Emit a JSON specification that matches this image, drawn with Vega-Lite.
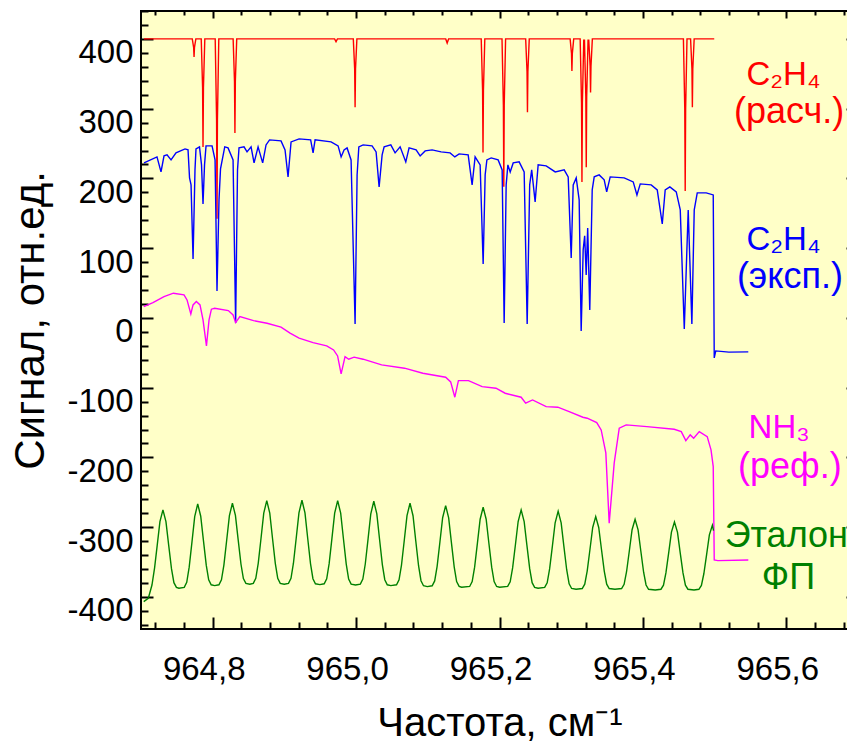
{
"$schema": "https://vega.github.io/schema/vega-lite/v6.json",
"width": 717, "height": 618,
"autosize": "none",
"padding": {"left": 141, "top": 11, "right": 0, "bottom": 117},
"background": "white",
"config": {
  "view": {"stroke": "black", "strokeWidth": 2, "fill": "#FFFFC8"},
  "axis": {"grid": false, "domain": false, "tickColor": "black", "tickWidth": 2, "labelColor": "black", "titleColor": "black", "labelFont": "Liberation Sans", "titleFont": "Liberation Sans", "titleFontWeight": "normal"}
},
"datasets": {
"curves": [
{"s":"r","x":964.7042,"y":400},{"s":"r","x":964.7715,"y":400},{"s":"r","x":964.7734,"y":388},{"s":"r","x":964.774,"y":374},{"s":"r","x":964.7746,"y":388},{"s":"r","x":964.7765,"y":400},
{"s":"r","x":964.784,"y":400},{"s":"r","x":964.7859,"y":330},{"s":"r","x":964.7865,"y":245},{"s":"r","x":964.7871,"y":330},{"s":"r","x":964.789,"y":400},
{"s":"r","x":964.8035,"y":400},{"s":"r","x":964.8054,"y":284},{"s":"r","x":964.806,"y":142},{"s":"r","x":964.8066,"y":284},{"s":"r","x":964.8085,"y":400},
{"s":"r","x":964.8285,"y":400},{"s":"r","x":964.8304,"y":339},{"s":"r","x":964.831,"y":265},{"s":"r","x":964.8316,"y":339},{"s":"r","x":964.8335,"y":400},
{"s":"r","x":964.970,"y":400},{"s":"r","x":964.972,"y":396},{"s":"r","x":964.974,"y":400},
{"s":"r","x":964.9961,"y":400},{"s":"r","x":964.998,"y":357},{"s":"r","x":964.9986,"y":302},{"s":"r","x":964.9992,"y":357},{"s":"r","x":965.0011,"y":400},
{"s":"r","x":965.125,"y":400},{"s":"r","x":965.127,"y":394},{"s":"r","x":965.129,"y":400},
{"s":"r","x":965.1745,"y":400},{"s":"r","x":965.1764,"y":326},{"s":"r","x":965.177,"y":237},{"s":"r","x":965.1776,"y":326},{"s":"r","x":965.1795,"y":400},
{"s":"r","x":965.2035,"y":400},{"s":"r","x":965.2054,"y":305},{"s":"r","x":965.206,"y":188},{"s":"r","x":965.2066,"y":305},{"s":"r","x":965.2085,"y":400},
{"s":"r","x":965.2365,"y":400},{"s":"r","x":965.2384,"y":353},{"s":"r","x":965.239,"y":295},{"s":"r","x":965.2396,"y":353},{"s":"r","x":965.2415,"y":400},
{"s":"r","x":965.2985,"y":400},{"s":"r","x":965.3004,"y":379},{"s":"r","x":965.301,"y":354},{"s":"r","x":965.3016,"y":379},{"s":"r","x":965.3035,"y":400},
{"s":"r","x":965.3125,"y":400},{"s":"r","x":965.3144,"y":308},{"s":"r","x":965.315,"y":195},{"s":"r","x":965.3156,"y":308},{"s":"r","x":965.3175,"y":398},
{"s":"r","x":965.3185,"y":398},{"s":"r","x":965.3204,"y":317},{"s":"r","x":965.321,"y":216},{"s":"r","x":965.3216,"y":317},{"s":"r","x":965.3235,"y":398},
{"s":"r","x":965.3245,"y":398},{"s":"r","x":965.3264,"y":361},{"s":"r","x":965.327,"y":323},{"s":"r","x":965.3276,"y":361},{"s":"r","x":965.3295,"y":400},
{"s":"r","x":965.4565,"y":400},{"s":"r","x":965.4584,"y":300},{"s":"r","x":965.459,"y":182},{"s":"r","x":965.4596,"y":300},{"s":"r","x":965.4615,"y":400},
{"s":"r","x":965.4665,"y":400},{"s":"r","x":965.4684,"y":357},{"s":"r","x":965.469,"y":302},{"s":"r","x":965.4696,"y":357},{"s":"r","x":965.4715,"y":400},
{"s":"r","x":965.4995,"y":400},

{"s":"b","x":964.7042,"y":222.2},{"s":"b","x":964.7223,"y":230.8},{"s":"b","x":964.7279,"y":209.3},{"s":"b","x":964.7321,"y":232.3},{"s":"b","x":964.7363,"y":233.7},{"s":"b","x":964.7419,"y":226.5},{"s":"b","x":964.7488,"y":236.6},{"s":"b","x":964.7614,"y":242.3},{"s":"b","x":964.7656,"y":240.9},{"s":"b","x":964.7677,"y":200.7},{"s":"b","x":964.7698,"y":190.7},{"s":"b","x":964.7726,"y":84.6},{"s":"b","x":964.7753,"y":212.2},{"s":"b","x":964.7767,"y":242.3},{"s":"b","x":964.7816,"y":245.2},{"s":"b","x":964.7844,"y":219.4},{"s":"b","x":964.7865,"y":163.4},{"s":"b","x":964.7886,"y":219.4},{"s":"b","x":964.7907,"y":246.6},{"s":"b","x":964.7991,"y":246.6},{"s":"b","x":964.8033,"y":226.5},{"s":"b","x":964.806,"y":38.7},{"s":"b","x":964.8088,"y":169.2},{"s":"b","x":964.8109,"y":213.6},{"s":"b","x":964.8168,"y":245.2},{"s":"b","x":964.8214,"y":243.7},{"s":"b","x":964.8284,"y":226.5},{"s":"b","x":964.832,"y":-7.2},{"s":"b","x":964.8346,"y":212.2},{"s":"b","x":964.8367,"y":243.7},{"s":"b","x":964.8437,"y":245.2},{"s":"b","x":964.8479,"y":238},{"s":"b","x":964.8535,"y":245.2},{"s":"b","x":964.8577,"y":222.2},{"s":"b","x":964.8633,"y":245.2},{"s":"b","x":964.8697,"y":222.2},{"s":"b","x":964.8744,"y":248},{"s":"b","x":964.8793,"y":255.2},{"s":"b","x":964.8953,"y":253.8},{"s":"b","x":964.9009,"y":240.9},{"s":"b","x":964.9051,"y":202.2},{"s":"b","x":964.9093,"y":252.3},{"s":"b","x":964.9205,"y":256.6},{"s":"b","x":964.9366,"y":255.2},{"s":"b","x":964.94,"y":236.6},{"s":"b","x":964.9428,"y":255.2},{"s":"b","x":964.9651,"y":252.3},{"s":"b","x":964.9749,"y":246.6},{"s":"b","x":964.9791,"y":230.8},{"s":"b","x":964.9832,"y":240.9},{"s":"b","x":964.9874,"y":243.7},{"s":"b","x":964.993,"y":226.5},{"s":"b","x":964.9986,"y":-8.6},{"s":"b","x":965.0014,"y":205},{"s":"b","x":965.0038,"y":245.2},{"s":"b","x":965.0098,"y":248},{"s":"b","x":965.0223,"y":246.6},{"s":"b","x":965.0279,"y":238},{"s":"b","x":965.0321,"y":187.8},{"s":"b","x":965.0363,"y":233.7},{"s":"b","x":965.0391,"y":245.2},{"s":"b","x":965.0484,"y":248},{"s":"b","x":965.0544,"y":236.6},{"s":"b","x":965.0614,"y":245.2},{"s":"b","x":965.0693,"y":223.7},{"s":"b","x":965.0739,"y":243.7},{"s":"b","x":965.0837,"y":240.9},{"s":"b","x":965.0893,"y":232.3},{"s":"b","x":965.0963,"y":239.4},{"s":"b","x":965.106,"y":240.9},{"s":"b","x":965.1186,"y":238},{"s":"b","x":965.1311,"y":236.6},{"s":"b","x":965.1377,"y":230.8},{"s":"b","x":965.1437,"y":235.1},{"s":"b","x":965.1563,"y":233.7},{"s":"b","x":965.1618,"y":190.7},{"s":"b","x":965.166,"y":230.8},{"s":"b","x":965.173,"y":219.4},{"s":"b","x":965.1772,"y":77.4},{"s":"b","x":965.18,"y":205},{"s":"b","x":965.1824,"y":226.5},{"s":"b","x":965.1884,"y":229.4},{"s":"b","x":965.1981,"y":226.5},{"s":"b","x":965.2037,"y":212.2},{"s":"b","x":965.2065,"y":-7.2},{"s":"b","x":965.2093,"y":190.7},{"s":"b","x":965.2117,"y":219.4},{"s":"b","x":965.2149,"y":209.3},{"s":"b","x":965.2191,"y":222.2},{"s":"b","x":965.2274,"y":223.7},{"s":"b","x":965.2344,"y":209.3},{"s":"b","x":965.2386,"y":-8.6},{"s":"b","x":965.2421,"y":190.7},{"s":"b","x":965.2449,"y":212.2},{"s":"b","x":965.2497,"y":166.3},{"s":"b","x":965.2539,"y":219.4},{"s":"b","x":965.2651,"y":217.9},{"s":"b","x":965.2777,"y":209.3},{"s":"b","x":965.2902,"y":212.2},{"s":"b","x":965.2958,"y":202.2},{"s":"b","x":965.3,"y":86},{"s":"b","x":965.3028,"y":190.7},{"s":"b","x":965.307,"y":200.7},{"s":"b","x":965.3111,"y":169.2},{"s":"b","x":965.3139,"y":-18.6},{"s":"b","x":965.3167,"y":97.5},{"s":"b","x":965.3188,"y":117.6},{"s":"b","x":965.3209,"y":61.6},{"s":"b","x":965.323,"y":129},{"s":"b","x":965.3259,"y":11.5},{"s":"b","x":965.3293,"y":183.5},{"s":"b","x":965.3321,"y":202.2},{"s":"b","x":965.339,"y":205},{"s":"b","x":965.346,"y":197.9},{"s":"b","x":965.3495,"y":180.6},{"s":"b","x":965.3544,"y":202.2},{"s":"b","x":965.3739,"y":200.7},{"s":"b","x":965.3865,"y":195},{"s":"b","x":965.3917,"y":176.3},{"s":"b","x":965.3963,"y":192.1},{"s":"b","x":965.4116,"y":190.7},{"s":"b","x":965.42,"y":183.5},{"s":"b","x":965.427,"y":134.8},{"s":"b","x":965.4311,"y":183.5},{"s":"b","x":965.4376,"y":187.8},{"s":"b","x":965.4465,"y":180.6},{"s":"b","x":965.4521,"y":154.8},{"s":"b","x":965.4577,"y":-15.8},{"s":"b","x":965.4632,"y":154.8},{"s":"b","x":965.4683,"y":-8.6},{"s":"b","x":965.4716,"y":154.8},{"s":"b","x":965.4758,"y":179.2},{"s":"b","x":965.4883,"y":179.2},{"s":"b","x":965.4981,"y":176.3},{"s":"b","x":965.4995,"y":-57.3},{"s":"b","x":965.5016,"y":-47.3},{"s":"b","x":965.52,"y":-49},{"s":"b","x":965.547,"y":-48.7},

{"s":"m","x":964.7038,"y":16.2},{"s":"m","x":964.7167,"y":21.9},{"s":"m","x":964.7321,"y":30.5},{"s":"m","x":964.7452,"y":35.4},{"s":"m","x":964.76,"y":33},{"s":"m","x":964.7642,"y":25.8},{"s":"m","x":964.7695,"y":5.7},{"s":"m","x":964.7726,"y":18.6},{"s":"m","x":964.7772,"y":23.4},{"s":"m","x":964.7823,"y":18.6},{"s":"m","x":964.7865,"y":-2.9},{"s":"m","x":964.7913,"y":-40.1},{"s":"m","x":964.7949,"y":-2.9},{"s":"m","x":964.7982,"y":12.5},{"s":"m","x":964.8027,"y":13.9},{"s":"m","x":964.8218,"y":10.5},{"s":"m","x":964.8284,"y":4.3},{"s":"m","x":964.832,"y":-6.7},{"s":"m","x":964.8379,"y":1.9},{"s":"m","x":964.857,"y":-3.9},{"s":"m","x":964.8758,"y":-7.6},{"s":"m","x":964.8953,"y":-13.3},{"s":"m","x":964.9079,"y":-21.9},{"s":"m","x":964.9205,"y":-29.1},{"s":"m","x":964.94,"y":-35.4},{"s":"m","x":964.959,"y":-40.1},{"s":"m","x":964.9686,"y":-45.9},{"s":"m","x":964.9742,"y":-54.5},{"s":"m","x":964.9791,"y":-80.3},{"s":"m","x":964.9846,"y":-55.5},{"s":"m","x":964.9897,"y":-59.2},{"s":"m","x":964.9972,"y":-56.3},{"s":"m","x":965.0098,"y":-59.2},{"s":"m","x":965.0356,"y":-67.4},{"s":"m","x":965.0675,"y":-72.1},{"s":"m","x":965.0931,"y":-79.3},{"s":"m","x":965.1249,"y":-85},{"s":"m","x":965.1319,"y":-91.8},{"s":"m","x":965.1377,"y":-113.7},{"s":"m","x":965.1427,"y":-89.9},{"s":"m","x":965.1568,"y":-89.9},{"s":"m","x":965.1758,"y":-98.5},{"s":"m","x":965.1951,"y":-100.8},{"s":"m","x":965.2079,"y":-108},{"s":"m","x":965.2302,"y":-113.7},{"s":"m","x":965.2365,"y":-122.3},{"s":"m","x":965.2461,"y":-117.6},{"s":"m","x":965.2651,"y":-127.2},{"s":"m","x":965.2813,"y":-128},{"s":"m","x":965.2972,"y":-134.3},{"s":"m","x":965.3163,"y":-142.4},{"s":"m","x":965.3223,"y":-143.8},{"s":"m","x":965.3356,"y":-150.1},{"s":"m","x":965.3418,"y":-160.6},{"s":"m","x":965.3483,"y":-193.5},{"s":"m","x":965.353,"y":-294.3},{"s":"m","x":965.36,"y":-207.9},{"s":"m","x":965.367,"y":-158.1},{"s":"m","x":965.3767,"y":-153.4},{"s":"m","x":965.4056,"y":-155.8},{"s":"m","x":965.4437,"y":-159.6},{"s":"m","x":965.4535,"y":-163},{"s":"m","x":965.4599,"y":-175.9},{"s":"m","x":965.466,"y":-167.7},{"s":"m","x":965.4708,"y":-172.5},{"s":"m","x":965.4786,"y":-163},{"s":"m","x":965.4897,"y":-170.2},{"s":"m","x":965.495,"y":-189.2},{"s":"m","x":965.4981,"y":-213.2},{"s":"m","x":965.4995,"y":-347},{"s":"m","x":965.5045,"y":-348},{"s":"m","x":965.547,"y":-347},

{"s":"g","x":964.7038,"y":-406.7},{"s":"g","x":964.7102,"y":-401.9},{"s":"g","x":964.7153,"y":-383},{"s":"g","x":964.719,"y":-358},{"s":"g","x":964.7226,"y":-326},{"s":"g","x":964.7264,"y":-292},{"s":"g","x":964.7306,"y":-275.3},{"s":"g","x":964.7348,"y":-292.1},{"s":"g","x":964.7386,"y":-325.8},{"s":"g","x":964.7425,"y":-359.5},{"s":"g","x":964.7459,"y":-379.6},{"s":"g","x":964.7494,"y":-386.4},{"s":"g","x":964.7529,"y":-387.5},
{"s":"g","x":964.7603,"y":-386.3},{"s":"g","x":964.7638,"y":-379},{"s":"g","x":964.7672,"y":-357.3},{"s":"g","x":964.7711,"y":-321.1},{"s":"g","x":964.7749,"y":-284.8},{"s":"g","x":964.7791,"y":-266.7},{"s":"g","x":964.7833,"y":-284.3},{"s":"g","x":964.7871,"y":-319.4},{"s":"g","x":964.791,"y":-354.5},{"s":"g","x":964.7944,"y":-375.6},{"s":"g","x":964.7979,"y":-382.6},{"s":"g","x":964.8027,"y":-383.8},
{"s":"g","x":964.8087,"y":-382.6},{"s":"g","x":964.8122,"y":-375.5},{"s":"g","x":964.8156,"y":-354.3},{"s":"g","x":964.8195,"y":-318.8},{"s":"g","x":964.8233,"y":-283.4},{"s":"g","x":964.8275,"y":-265.7},{"s":"g","x":964.8317,"y":-283.1},{"s":"g","x":964.8355,"y":-317.9},{"s":"g","x":964.8394,"y":-352.8},{"s":"g","x":964.8428,"y":-373.7},{"s":"g","x":964.8463,"y":-380.6},{"s":"g","x":964.8518,"y":-381.8},
{"s":"g","x":964.8566,"y":-380.6},{"s":"g","x":964.8601,"y":-373.4},{"s":"g","x":964.8635,"y":-351.8},{"s":"g","x":964.8674,"y":-315.9},{"s":"g","x":964.8712,"y":-279.9},{"s":"g","x":964.8754,"y":-261.9},{"s":"g","x":964.8796,"y":-279.9},{"s":"g","x":964.8834,"y":-315.9},{"s":"g","x":964.8873,"y":-351.8},{"s":"g","x":964.8907,"y":-373.4},{"s":"g","x":964.8942,"y":-380.6},{"s":"g","x":964.8997,"y":-381.8},
{"s":"g","x":964.9057,"y":-380.6},{"s":"g","x":964.9092,"y":-373.4},{"s":"g","x":964.9126,"y":-351.7},{"s":"g","x":964.9165,"y":-315.6},{"s":"g","x":964.9203,"y":-279.5},{"s":"g","x":964.9245,"y":-261.4},{"s":"g","x":964.9287,"y":-279.6},{"s":"g","x":964.9325,"y":-315.9},{"s":"g","x":964.9364,"y":-352.2},{"s":"g","x":964.9398,"y":-373.9},{"s":"g","x":964.9433,"y":-381.2},{"s":"g","x":964.9495,"y":-382.4},
{"s":"g","x":964.9555,"y":-381.2},{"s":"g","x":964.959,"y":-374},{"s":"g","x":964.9624,"y":-352.3},{"s":"g","x":964.9663,"y":-316.1},{"s":"g","x":964.9701,"y":-280},{"s":"g","x":964.9743,"y":-261.9},{"s":"g","x":964.9785,"y":-280},{"s":"g","x":964.9823,"y":-316.3},{"s":"g","x":964.9862,"y":-352.6},{"s":"g","x":964.9896,"y":-374.3},{"s":"g","x":964.9931,"y":-381.6},{"s":"g","x":964.9992,"y":-382.8},
{"s":"g","x":965.0059,"y":-381.6},{"s":"g","x":965.0094,"y":-374.4},{"s":"g","x":965.0128,"y":-352.8},{"s":"g","x":965.0167,"y":-316.8},{"s":"g","x":965.0205,"y":-280.8},{"s":"g","x":965.0247,"y":-262.8},{"s":"g","x":965.0289,"y":-281},{"s":"g","x":965.0327,"y":-317.3},{"s":"g","x":965.0366,"y":-353.6},{"s":"g","x":965.04,"y":-375.3},{"s":"g","x":965.0435,"y":-382.6},{"s":"g","x":965.0484,"y":-383.8},
{"s":"g","x":965.0564,"y":-382.6},{"s":"g","x":965.0599,"y":-375.5},{"s":"g","x":965.0633,"y":-354.3},{"s":"g","x":965.0672,"y":-318.8},{"s":"g","x":965.071,"y":-283.4},{"s":"g","x":965.0752,"y":-265.7},{"s":"g","x":965.0794,"y":-283.6},{"s":"g","x":965.0832,"y":-319.5},{"s":"g","x":965.0871,"y":-355.3},{"s":"g","x":965.0905,"y":-376.8},{"s":"g","x":965.094,"y":-384},{"s":"g","x":965.0993,"y":-385.2},
{"s":"g","x":965.1061,"y":-384},{"s":"g","x":965.1096,"y":-377.1},{"s":"g","x":965.113,"y":-356.2},{"s":"g","x":965.1169,"y":-321.3},{"s":"g","x":965.1207,"y":-286.5},{"s":"g","x":965.1249,"y":-269.1},{"s":"g","x":965.1291,"y":-286.7},{"s":"g","x":965.1329,"y":-321.8},{"s":"g","x":965.1368,"y":-356.9},{"s":"g","x":965.1402,"y":-377.9},{"s":"g","x":965.1437,"y":-384.9},{"s":"g","x":965.1472,"y":-386.1},
{"s":"g","x":965.1584,"y":-385},{"s":"g","x":965.1619,"y":-378.1},{"s":"g","x":965.1653,"y":-357.4},{"s":"g","x":965.1692,"y":-323},{"s":"g","x":965.173,"y":-288.6},{"s":"g","x":965.1772,"y":-271.4},{"s":"g","x":965.1814,"y":-288.6},{"s":"g","x":965.1852,"y":-323},{"s":"g","x":965.1891,"y":-357.4},{"s":"g","x":965.1925,"y":-378.1},{"s":"g","x":965.196,"y":-385},{"s":"g","x":965.2002,"y":-386.1},
{"s":"g","x":965.2114,"y":-385},{"s":"g","x":965.2149,"y":-378.3},{"s":"g","x":965.2183,"y":-358.4},{"s":"g","x":965.2222,"y":-325.2},{"s":"g","x":965.226,"y":-291.9},{"s":"g","x":965.2302,"y":-275.3},{"s":"g","x":965.2344,"y":-292.1},{"s":"g","x":965.2382,"y":-325.8},{"s":"g","x":965.2421,"y":-359.5},{"s":"g","x":965.2455,"y":-379.6},{"s":"g","x":965.249,"y":-386.4},{"s":"g","x":965.2538,"y":-387.5},
{"s":"g","x":965.263,"y":-386.4},{"s":"g","x":965.2665,"y":-379.8},{"s":"g","x":965.2699,"y":-359.9},{"s":"g","x":965.2738,"y":-326.8},{"s":"g","x":965.2776,"y":-293.7},{"s":"g","x":965.2818,"y":-277.1},{"s":"g","x":965.286,"y":-293.9},{"s":"g","x":965.2898,"y":-327.5},{"s":"g","x":965.2937,"y":-361},{"s":"g","x":965.2971,"y":-381.2},{"s":"g","x":965.3006,"y":-387.9},{"s":"g","x":965.3068,"y":-389},
{"s":"g","x":965.3154,"y":-388},{"s":"g","x":965.3189,"y":-381.7},{"s":"g","x":965.3223,"y":-363},{"s":"g","x":965.3262,"y":-331.7},{"s":"g","x":965.33,"y":-300.5},{"s":"g","x":965.3342,"y":-284.9},{"s":"g","x":965.3384,"y":-300.5},{"s":"g","x":965.3422,"y":-331.7},{"s":"g","x":965.3461,"y":-363},{"s":"g","x":965.3495,"y":-381.7},{"s":"g","x":965.353,"y":-388},{"s":"g","x":965.361,"y":-389},
{"s":"g","x":965.3703,"y":-388},{"s":"g","x":965.3738,"y":-382},{"s":"g","x":965.3772,"y":-363.9},{"s":"g","x":965.3811,"y":-333.8},{"s":"g","x":965.3849,"y":-303.7},{"s":"g","x":965.3891,"y":-288.6},{"s":"g","x":965.3933,"y":-303.8},{"s":"g","x":965.3971,"y":-334.2},{"s":"g","x":965.401,"y":-364.6},{"s":"g","x":965.4044,"y":-382.9},{"s":"g","x":965.4079,"y":-389},{"s":"g","x":965.4172,"y":-390},
{"s":"g","x":965.4252,"y":-389},{"s":"g","x":965.4287,"y":-383.2},{"s":"g","x":965.4321,"y":-365.6},{"s":"g","x":965.436,"y":-336.4},{"s":"g","x":965.4398,"y":-307.1},{"s":"g","x":965.444,"y":-292.5},{"s":"g","x":965.4482,"y":-307.1},{"s":"g","x":965.452,"y":-336.4},{"s":"g","x":965.4559,"y":-365.6},{"s":"g","x":965.4593,"y":-383.2},{"s":"g","x":965.4628,"y":-389},{"s":"g","x":965.4713,"y":-390},
{"s":"g","x":965.4781,"y":-389.1},{"s":"g","x":965.4816,"y":-383.5},{"s":"g","x":965.485,"y":-366.8},{"s":"g","x":965.4889,"y":-339},{"s":"g","x":965.4927,"y":-311.1},{"s":"g","x":965.4969,"y":-297.2},{"s":"g","x":965.4985,"y":-305}
],
"labels": [
{"t":"C₂H₄","s":"r","x":965.596,"y":348},
{"t":"(расч.)","s":"r","x":965.604,"y":295},
{"t":"C₂H₄","s":"b","x":965.596,"y":112},
{"t":"(эксп.)","s":"b","x":965.605,"y":59},
{"t":"NH₃","s":"m","x":965.590,"y":-158},
{"t":"(реф.)","s":"m","x":965.605,"y":-214},
{"t":"Эталон","s":"g","x":965.600,"y":-312},
{"t":"ФП","s":"g","x":965.603,"y":-373}
]
},
"layer": [
{
  "data": {"name": "curves"},
  "mark": {"type": "line", "strokeWidth": 1.4, "clip": true},
  "encoding": {
    "x": {"field": "x", "type": "quantitative", "scale": {"domain": [964.7, 965.7], "nice": false, "zero": false},
      "axis": {"orient": "bottom", "title": "Частота, см⁻¹", "titleFontSize": 40, "titlePadding": 12,
        "values": [964.72,964.76,964.8,964.84,964.88,964.92,964.96,965.0,965.04,965.08,965.12,965.16,965.2,965.24,965.28,965.32,965.36,965.4,965.44,965.48,965.52,965.56,965.6,965.64,965.68],
        "labelExpr": "abs(datum.value*5-round(datum.value*5))<0.01 ? replace(format(datum.value,'.1f'),'.',',') : ''",
        "labelFontSize": 33, "labelPadding": 36, "labelOffset": -9, "labelFlush": false, "labelOverlap": false,
        "tickSize": {"condition": {"test": "abs(datum.value*5-round(datum.value*5))<0.01", "value": -12}, "value": -7}}},
    "y": {"field": "y", "type": "quantitative", "scale": {"domain": [-446, 440], "nice": false, "zero": false},
      "axis": {"orient": "left", "title": "Сигнал, отн.ед.", "titleFontSize": 42, "titlePadding": 14,
        "values": [-440,-420,-400,-380,-360,-340,-320,-300,-280,-260,-240,-220,-200,-180,-160,-140,-120,-100,-80,-60,-40,-20,0,20,40,60,80,100,120,140,160,180,200,220,240,260,280,300,320,340,360,380,400,420,440],
        "labelExpr": "datum.value % 100 == 0 ? '' + datum.value : ''",
        "labelFontSize": 33, "labelPadding": 20, "labelOffset": 14, "labelFlush": false, "labelOverlap": false,
        "tickSize": {"condition": {"test": "datum.value % 100 == 0", "value": -12}, "value": -7}}},
    "color": {"field": "s", "type": "nominal", "scale": {"domain": ["r","b","m","g"], "range": ["#FF0000","#0000FF","#FF00FF","#008000"]}, "legend": null}
  }
},
{
  "data": {"name": "labels"},
  "mark": {"type": "text", "font": "Liberation Sans", "align": "center", "baseline": "middle"},
  "encoding": {
    "x": {"field": "x", "type": "quantitative", "scale": {"domain": [964.7, 965.7], "nice": false, "zero": false},
      "axis": {"orient": "top", "title": null, "labels": false,
        "values": [964.72,964.76,964.8,964.84,964.88,964.92,964.96,965.0,965.04,965.08,965.12,965.16,965.2,965.24,965.28,965.32,965.36,965.4,965.44,965.48,965.52,965.56,965.6,965.64,965.68],
        "tickSize": {"condition": {"test": "abs(datum.value*5-round(datum.value*5))<0.01", "value": -7}, "value": -4}}},
    "y": {"field": "y", "type": "quantitative", "scale": {"domain": [-446, 440], "nice": false, "zero": false},
      "axis": {"orient": "right", "title": null, "labels": false,
        "values": [-440,-420,-400,-380,-360,-340,-320,-300,-280,-260,-240,-220,-200,-180,-160,-140,-120,-100,-80,-60,-40,-20,0,20,40,60,80,100,120,140,160,180,200,220,240,260,280,300,320,340,360,380,400,420,440],
        "tickSize": {"condition": {"test": "datum.value % 100 == 0", "value": -12}, "value": -7}}},
    "text": {"field": "t", "type": "nominal"},
    "size": {"condition": {"test": "indexof(datum.t, 'H') >= 0", "value": 33}, "value": 36},
    "color": {"field": "s", "type": "nominal", "scale": {"domain": ["r","b","m","g"], "range": ["#FF0000","#0000FF","#FF00FF","#008000"]}, "legend": null}
  }
}
],
"resolve": {"axis": {"x": "independent", "y": "independent"}}
}
